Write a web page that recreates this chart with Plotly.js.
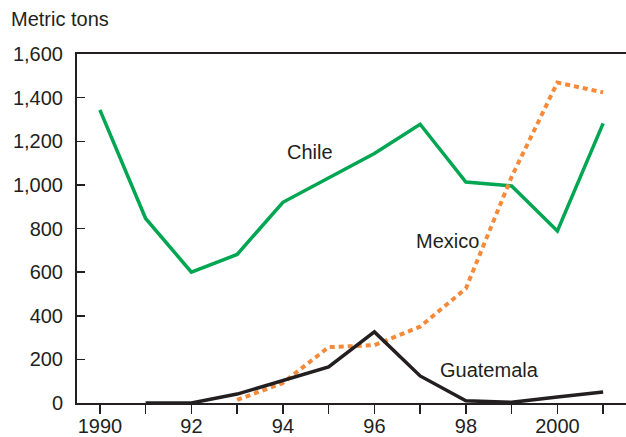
<!DOCTYPE html>
<html>
<head>
<meta charset="utf-8">
<script src="https://cdn.plot.ly/plotly-3.0.1.min.js"></script>
<style>html,body{margin:0;padding:0;background:#fff;}#chart{width:626px;height:437px;}</style>
</head>
<body>
<div id="chart"></div>
<script>
const years = [1990,1991,1992,1993,1994,1995,1996,1997,1998,1999,2000,2001];
const chile = [1344,846,600,681,920,1030,1144,1278,1013,995,789,1282];
const mexicoYears = [1993,1994,1995,1996,1997,1998,1999,2000,2001];
const mexico = [14,92,256,265,350,525,1037,1469,1424];
const guatemalaYears = [1991,1992,1993,1994,1995,1996,1997,1998,1999,2000,2001];
const guatemala = [0,0,41,105,165,326,124,10,3,28,50];
const xTickVals = years;
const xTickText = ['1990','','92','','94','','96','','98','','2000',''];
const yTickVals = [0,200,400,600,800,1000,1200,1400,1600];
const yTickText = ['0','200','400','600','800','1,000','1,200','1,400','1,600'];

const txt = '#231F20';
const font = {family:'Liberation Sans, Arial, sans-serif', size:20, color:txt};

const traces = [
  {x:years, y:chile, mode:'lines', line:{color:'#00A651', width:3.5}, hoverinfo:'skip'},
  {x:mexicoYears, y:mexico, mode:'lines', line:{color:'#F58A3A', width:4, dash:'5px,4px'}, hoverinfo:'skip'},
  {x:guatemalaYears, y:guatemala, mode:'lines', line:{color:txt, width:3.5}, hoverinfo:'skip'}
];

const layout = {
  width:626, height:437,
  margin:{l:77, r:0, t:54, b:34},
  paper_bgcolor:'#fff', plot_bgcolor:'#fff',
  showlegend:false,
  font:font,
  xaxis:{range:[1989.5,2001.5], tickvals:xTickVals, ticktext:xTickText,
    ticks:'outside', ticklen:9, tickwidth:1.5, tickcolor:txt,
    showline:true, linecolor:txt, linewidth:2, mirror:true, ticklabelstandoff:-5,
    showgrid:false, zeroline:false, tickfont:font, fixedrange:true},
  yaxis:{range:[0,1600], tickvals:yTickVals, ticktext:yTickText,
    ticks:'inside', ticklen:8, tickwidth:1.5, tickcolor:txt,
    showline:true, linecolor:txt, linewidth:2, ticklabelstandoff:8,
    showgrid:false, zeroline:false, tickfont:font, fixedrange:true},
  annotations:[
    {text:'Metric tons', xref:'paper', yref:'paper', x:-0.1239, y:1.100, xanchor:'left', yanchor:'middle', showarrow:false, font:font},
    {text:'Chile', x:1994.59, y:1150, xanchor:'center', yanchor:'middle', showarrow:false, font:font},
    {text:'Mexico', x:1997.6, y:745, xanchor:'center', yanchor:'middle', showarrow:false, font:font},
    {text:'Guatemala', x:1998.52, y:150, xanchor:'center', yanchor:'middle', showarrow:false, font:font}
  ]
};
Plotly.newPlot('chart', traces, layout, {staticPlot:true, displayModeBar:false});
</script>
</body>
</html>
